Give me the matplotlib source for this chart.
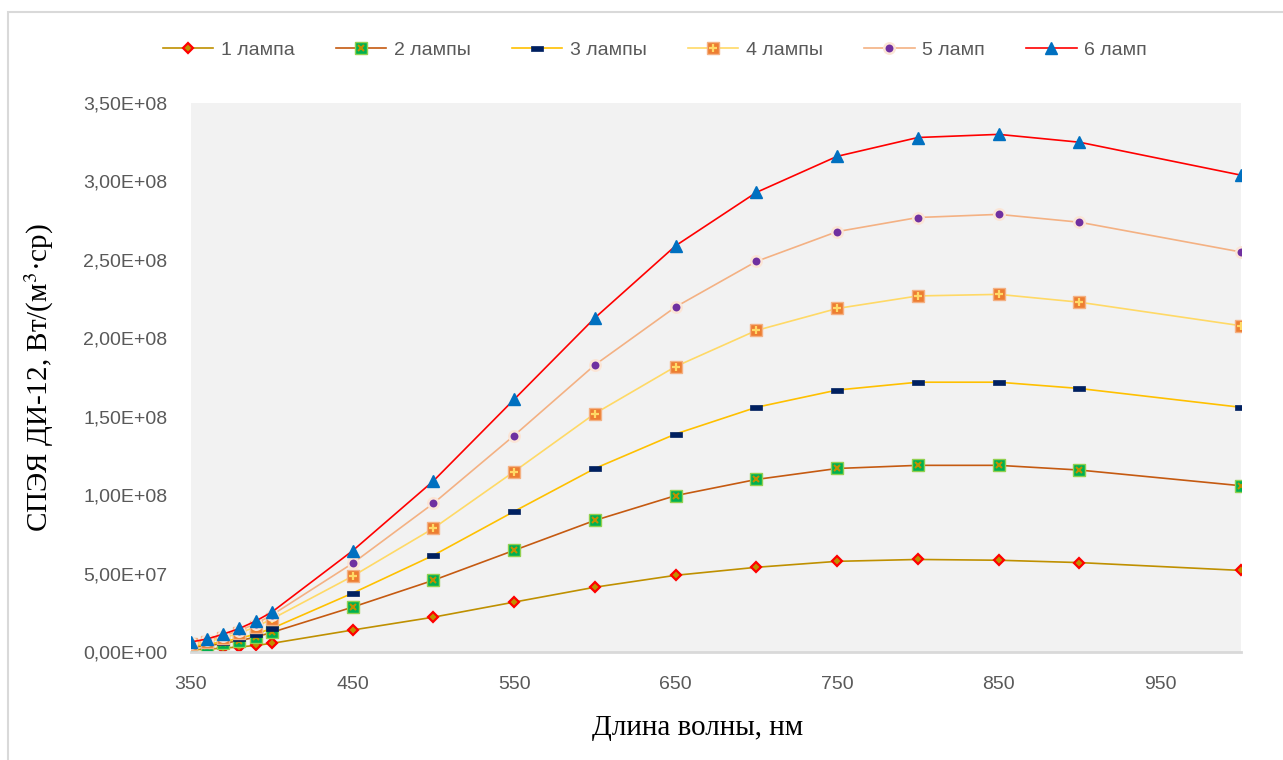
import matplotlib
matplotlib.use('Agg')
import matplotlib.pyplot as plt
from matplotlib.legend_handler import HandlerTuple
from matplotlib.patches import Rectangle
from matplotlib.path import Path
from matplotlib.ticker import FuncFormatter

# wavelength, nm
wl = [350, 360, 370, 380, 390, 400, 450, 500, 550, 600, 650, 700, 750, 800, 850, 900, 1000]

# spectral radiance, W/(m3*sr)
lamp1 = [0.14e7, 0.18e7, 0.25e7, 0.32e7, 0.42e7, 0.55e7, 1.40e7, 2.22e7, 3.18e7, 4.13e7,
         4.89e7, 5.40e7, 5.78e7, 5.90e7, 5.85e7, 5.70e7, 5.20e7]
lamp2 = [0.30e7, 0.40e7, 0.55e7, 0.72e7, 0.95e7, 1.25e7, 2.86e7, 4.57e7, 6.48e7, 8.39e7,
         9.97e7, 11.0e7, 11.7e7, 11.9e7, 11.9e7, 11.6e7, 10.6e7]
lamp3 = [0.37e7, 0.48e7, 0.66e7, 0.87e7, 1.14e7, 1.50e7, 3.75e7, 6.16e7, 8.96e7, 11.7e7,
         13.9e7, 15.6e7, 16.7e7, 17.2e7, 17.2e7, 16.8e7, 15.6e7]
lamp4 = [0.50e7, 0.65e7, 0.90e7, 1.20e7, 1.60e7, 2.10e7, 4.83e7, 7.88e7, 11.5e7, 15.2e7,
         18.2e7, 20.5e7, 21.9e7, 22.7e7, 22.8e7, 22.3e7, 20.8e7]
lamp5 = [0.58e7, 0.76e7, 1.03e7, 1.37e7, 1.80e7, 2.35e7, 5.65e7, 9.47e7, 13.8e7, 18.3e7,
         22.0e7, 24.9e7, 26.8e7, 27.7e7, 27.9e7, 27.4e7, 25.5e7]
lamp6 = [0.64e7, 0.83e7, 1.14e7, 1.50e7, 1.97e7, 2.54e7, 6.45e7, 10.9e7, 16.1e7, 21.3e7,
         25.9e7, 29.3e7, 31.6e7, 32.8e7, 33.0e7, 32.5e7, 30.4e7]

labels = ['1 лампа', '2 лампы', '3 лампы', '4 лампы', '5 ламп', '6 ламп']
x_ticks = [350, 450, 550, 650, 750, 850, 950]

plt.rcParams['font.family'] = ['Liberation Sans', 'DejaVu Sans']
plt.rcParams['mathtext.fontset'] = 'stix'

dash = Path([(-1, -0.4), (1, -0.4), (1, 0.4), (-1, 0.4), (-1, -0.4)],
            [Path.MOVETO, Path.LINETO, Path.LINETO, Path.LINETO, Path.CLOSEPOLY])

fig = plt.figure(figsize=(12.83, 7.6), dpi=100)
ax = fig.add_axes([191 / 1283, 1 - 652 / 760, (1241 - 191) / 1283, (652 - 103) / 760])
ax.set_facecolor('#F2F2F2')

lw = 1.2
h1, = ax.plot(wl, lamp1, c='#BF9000', lw=lw, marker='D', ms=5.5, mfc='#BF9000',
              mec='#FF0000', mew=1.6)
h2a, = ax.plot(wl, lamp2, c='#C55A11', lw=lw, marker='s', ms=8, mfc='#00B050',
               mec='#92D050', mew=1)
h2b, = ax.plot(wl, lamp2, ls='none', marker='x', ms=5, mec='#BF9000', mew=1.5)
h3, = ax.plot(wl, lamp3, c='#FFC000', lw=lw, marker=dash, ms=9, mfc='#002060',
              mec='#002060', mew=0.5)
h4a, = ax.plot(wl, lamp4, c='#FFD966', lw=lw, marker='s', ms=8, mfc='#ED7D31',
               mec='#F4B183', mew=1)
h4b, = ax.plot(wl, lamp4, ls='none', marker='+', ms=6, mec='#FFD966', mew=1.6)
h5, = ax.plot(wl, lamp5, c='#F4B183', lw=lw, marker='o', ms=7.5, mfc='#7030A0',
              mec='#FBE5D6', mew=1.8)
h6, = ax.plot(wl, lamp6, c='#FF0000', lw=lw, marker='^', ms=8, mfc='#0070C0',
              mec='#0070C0')

ax.set_xlim(350, 1000)
ax.set_ylim(0, 3.5e8)
ax.set_xticks(x_ticks)
ax.set_yticks([i * 5e7 for i in range(8)])
ax.yaxis.set_major_formatter(FuncFormatter(lambda v, p: ('%.2E' % v).replace('.', ',')))
ax.tick_params(length=0, labelsize=14, labelcolor='#595959')
ax.tick_params(axis='x', pad=17)
ax.tick_params(axis='y', pad=17)
for s in ['top', 'right', 'left']:
    ax.spines[s].set_visible(False)
ax.spines['bottom'].set_color('#D9D9D9')
ax.spines['bottom'].set_linewidth(2)

ax.set_xlabel('Длина волны, нм', family=['Liberation Serif'], fontsize=21, color='black')
ax.xaxis.set_label_coords((698 - 191) / (1241 - 191), -0.115)
ax.set_ylabel('СПЭЯ ДИ-12, Вт/(м$^3$·ср)', family=['Liberation Serif'], fontsize=21,
              color='black')
ax.yaxis.set_label_coords(-(191 - 56) / (1241 - 191), 0.5)

fig.legend([h1, (h2a, h2b), h3, (h4a, h4b), h5, h6], labels,
           handler_map={tuple: HandlerTuple(ndivide=1)},
           loc='center', bbox_to_anchor=(655 / 1283, 1 - 50 / 760), ncol=6,
           frameon=False, fontsize=14, labelcolor='#595959', handlelength=2.6,
           columnspacing=2.1, handletextpad=0.4)

fig.patches.append(Rectangle((8 / 1283, -0.1), 1.2, 1 - 12 / 760 + 0.1,
                             transform=fig.transFigure, fill=False,
                             ec='#D9D9D9', lw=1.5))

fig.savefig('out.png', dpi=100)
